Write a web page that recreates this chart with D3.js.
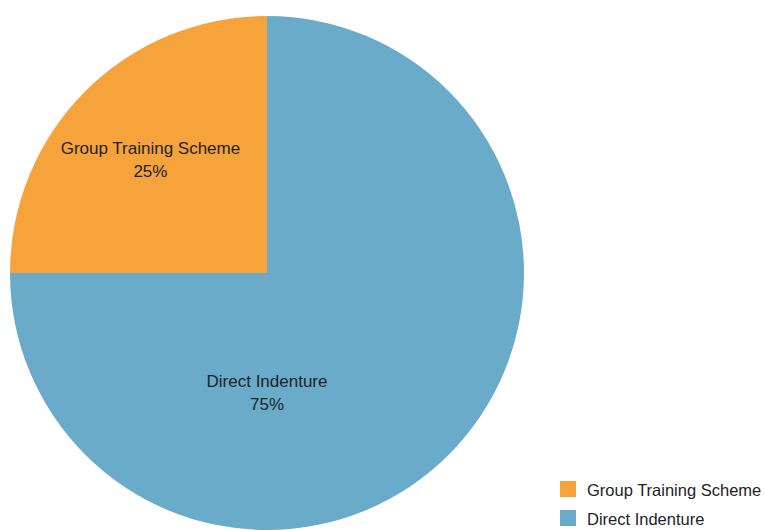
<!DOCTYPE html>
<html>
<head>
<meta charset="utf-8">
<script src="https://cdn.jsdelivr.net/npm/d3@7"></script>
<style>
  html, body { margin: 0; padding: 0; background: #ffffff; }
  svg { display: block; font-family: "Liberation Sans", Arial, sans-serif; }
</style>
</head>
<body>
<svg id="chart" width="765" height="530"></svg>
<script>
// Apprenticeship pathway split
const categories = ["Group Training Scheme", "Direct Indenture"];
const shares = [25, 75];
const colours = ["#f5a33a", "#6aabc9"];

const width = 765, height = 530;
const cx = 267, cy = 273, radius = 257;

const svg = d3.select("#chart");

const data = categories.map((c, i) => ({ name: c, value: shares[i], colour: colours[i] }));

// Larger slice starts at 12 o'clock and runs clockwise; the small one closes the circle
const pie = d3.pie()
  .value(d => d.value)
  .sort(null)
  .startAngle(0)
  .endAngle(2 * Math.PI);

const order = [1, 0];
const arcs = pie(order.map(i => data[i]));

const arc = d3.arc().innerRadius(0).outerRadius(radius);

const g = svg.append("g").attr("transform", `translate(${cx},${cy})`);

g.selectAll("path.slice")
  .data(arcs)
  .join("path")
  .attr("class", "slice")
  .attr("d", arc)
  .attr("fill", d => d.data.colour);

// Label anchor: minor slices use their mid-angle; a slice covering more than
// half of the pie is labelled straight below the centre
function labelPos(d) {
  const span = d.endAngle - d.startAngle;
  if (span > Math.PI) {
    return [0, radius * 0.463];
  }
  const mid = (d.startAngle + d.endAngle) / 2;
  const r = radius * 0.625;
  return [Math.sin(mid) * r - 3, -Math.cos(mid) * r];
}

const labels = g.selectAll("g.label")
  .data(arcs)
  .join("g")
  .attr("class", "label")
  .attr("transform", d => { const p = labelPos(d); return `translate(${p[0]},${p[1]})`; });

labels.append("text")
  .attr("text-anchor", "middle")
  .attr("y", -5)
  .attr("fill", "#1e2328")
  .attr("font-size", 17)
  .text(d => d.data.name);

labels.append("text")
  .attr("text-anchor", "middle")
  .attr("y", 18)
  .attr("fill", "#1e2328")
  .attr("font-size", 17)
  .text(d => d.data.value + "%");

// Legend
const legend = svg.append("g").attr("transform", "translate(560,481)");
const items = legend.selectAll("g.item")
  .data(data)
  .join("g")
  .attr("class", "item")
  .attr("transform", (d, i) => `translate(0,${i * 29})`);

items.append("rect")
  .attr("width", 16)
  .attr("height", 16)
  .attr("fill", d => d.colour);

items.append("text")
  .attr("x", 27)
  .attr("y", 15)
  .attr("fill", "#1e2328")
  .attr("font-size", 16.5)
  .text(d => d.name);
</script>
</body>
</html>
